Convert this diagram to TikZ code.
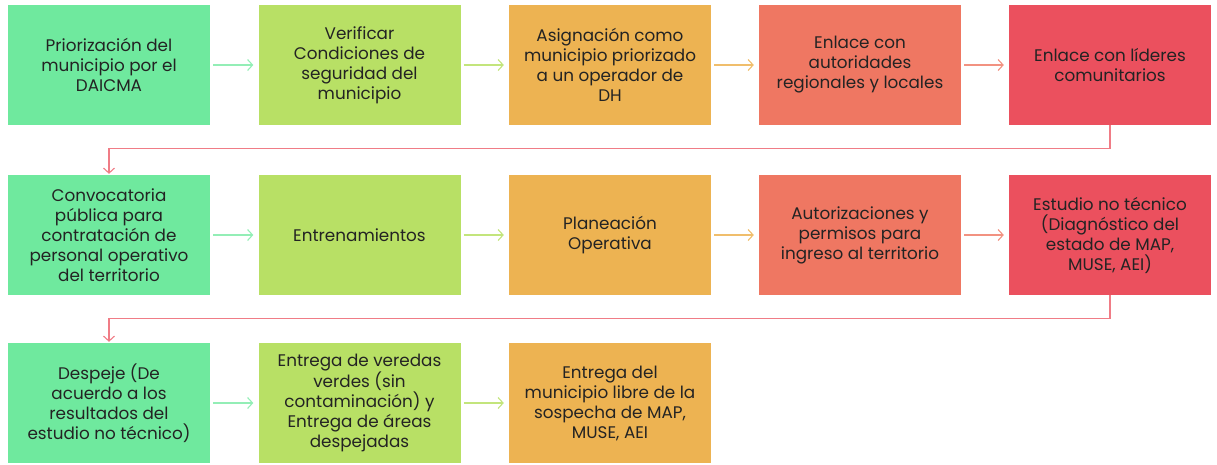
\documentclass[tikz,border=0pt]{standalone}
\usepackage{fontspec}
\setmainfont{Poppins}
\usetikzlibrary{arrows.meta}
\definecolor{cA}{RGB}{111,233,158}
\definecolor{cB}{RGB}{184,224,101}
\definecolor{cC}{RGB}{237,179,82}
\definecolor{cD}{RGB}{239,119,98}
\definecolor{cE}{RGB}{235,80,94}
\definecolor{txt}{RGB}{35,35,35}
\tikzset{
  stepbox/.style={rectangle, minimum width=202pt, minimum height=120pt, inner sep=0pt,
    align=center, text=txt, font=\fontsize{16.8}{20}\selectfont},
  flow/.style={line width=1.1pt, -{Straight Barb[length=5pt,width=11pt,line width=1.1pt]}, shorten <=3pt, shorten >=5pt},
}
\begin{document}
\begin{tikzpicture}[x=1pt,y=-1pt]
\useasboundingbox (0,0) rectangle (1217,464);
% row 1
\node[stepbox, fill=cA] (a1) at (109,65) {Priorización del\\municipio por el\\DAICMA};
\node[stepbox, fill=cB] (b1) at (359.5,65) {Verificar\\Condiciones de\\seguridad del\\municipio};
\node[stepbox, fill=cC] (c1) at (610,65) {Asignación como\\municipio priorizado\\a un operador de\\DH};
\node[stepbox, fill=cD] (d1) at (860,65) {Enlace con\\autoridades\\regionales y locales};
\node[stepbox, fill=cE] (e1) at (1110,65) {Enlace con líderes\\comunitarios};
% row 2
\node[stepbox, fill=cA] (a2) at (109,235) {Convocatoria\\pública para\\contratación de\\personal operativo\\del territorio};
\node[stepbox, fill=cB] (b2) at (359.5,235) {Entrenamientos};
\node[stepbox, fill=cC] (c2) at (610,235) {Planeación\\Operativa};
\node[stepbox, fill=cD] (d2) at (860,235) {Autorizaciones y\\permisos para\\ingreso al territorio};
\node[stepbox, fill=cE] (e2) at (1110,235) {Estudio no técnico\\(Diagnóstico del\\estado de MAP,\\MUSE, AEI)};
% row 3
\node[stepbox, fill=cA] (a3) at (109,403) {Despeje (De\\acuerdo a los\\resultados del\\estudio no técnico)};
\node[stepbox, fill=cB] (b3) at (359.5,403) {Entrega de veredas\\verdes (sin\\contaminación) y\\Entrega de áreas\\despejadas};
\node[stepbox, fill=cC] (c3) at (610,403) {Entrega del\\municipio libre de la\\sospecha de MAP,\\MUSE, AEI};
% arrows
\draw[flow, cA!75!white] (a1) -- (b1);
\draw[flow, cB!85!white] (b1) -- (c1);
\draw[flow, cC!85!white] (c1) -- (d1);
\draw[flow, cD!80!white] (d1) -- (e1);
\draw[flow, cA!75!white] (a2) -- (b2);
\draw[flow, cB!85!white] (b2) -- (c2);
\draw[flow, cC!85!white] (c2) -- (d2);
\draw[flow, cD!80!white] (d2) -- (e2);
\draw[flow, cA!75!white] (a3) -- (b3);
\draw[flow, cB!85!white] (b3) -- (c3);
\draw[flow, cE!75!white, shorten <=0pt, shorten >=1pt] (e1.south) -- ++(0,23) -| (a2.north);
\draw[flow, cE!75!white, shorten <=0pt, shorten >=1pt] (e2.south) -- ++(0,23) -| (a3.north);
\end{tikzpicture}
\end{document}
